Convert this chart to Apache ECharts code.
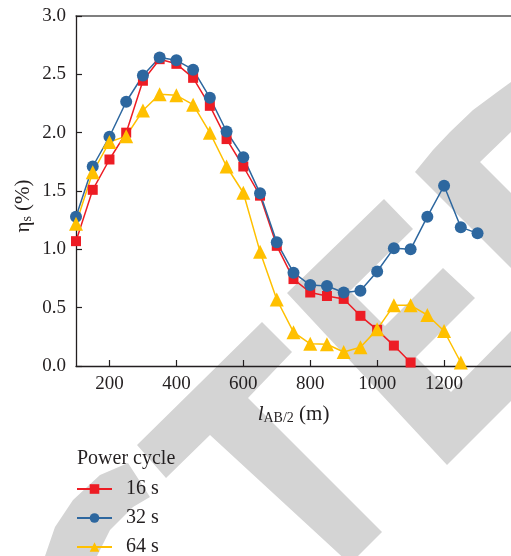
<!DOCTYPE html>
<html><head><meta charset="utf-8">
<script src="https://cdn.jsdelivr.net/npm/echarts@6/dist/echarts.min.js"></script>
<style>html,body{margin:0;padding:0;background:#fff}#c{width:511px;height:556px}</style>
</head><body><div id="c"></div>
<script>
const xs = [100,150,200,250,300,350,400,450,500,550,600,650,700,750,800,850,900,950,1000,1050,1100,1150,1200,1250,1300];
const s16 = [1.07,1.51,1.77,2.00,2.445,2.63,2.59,2.47,2.23,1.945,1.71,1.46,1.03,0.745,0.63,0.60,0.575,0.43,0.31,0.175,0.03];
const s32 = [1.28,1.71,1.965,2.265,2.49,2.645,2.62,2.54,2.30,2.01,1.79,1.48,1.06,0.80,0.694,0.686,0.63,0.645,0.81,1.01,1.0,1.28,1.545,1.19,1.137];
const s64 = [1.22,1.66,1.92,1.97,2.19,2.33,2.32,2.24,2.0,1.71,1.485,0.98,0.57,0.29,0.19,0.186,0.12,0.16,0.314,0.52,0.52,0.437,0.30,0.03];
const seriesNames = ['16 s','32 s','64 s'];
const xTicks = [200,400,600,800,1000,1200];

const FONT = 'Liberation Serif';
const TXT = '#231f20';
const GRAY = '#d4d4d4';
const pairs = arr => arr.map((v,i)=>[xs[i], v]);

const wm = [
  [[137,445],[262,322],[292,352],[248,398],[382,532],[350,564],[210,435],[166,478]],
  [[287,293],[384,199],[413,229],[350,291],[385,326],[443,268],[475,298],[416,357],[451,392],[511,331],[511,401],[447,465]],
  [[415,172],[433,150],[450,132],[473,110],[500,90],[511,82],[511,132],[480,162],[511,193],[511,268]],
  [[128,463],[100,475],[73,500],[55,527],[45,556],[97,556],[110,530],[133,507],[150,497]]
];

const chart = echarts.init(document.getElementById('c'), null, {renderer:'canvas'});
const rich = {
  a:{fontFamily:FONT,fontSize:21,color:TXT},
  i:{fontFamily:FONT,fontSize:21,color:TXT,fontStyle:'italic'},
  s:{fontFamily:FONT,fontSize:14,color:TXT,verticalAlign:'bottom'}
};
chart.setOption({
  animation:false,
  textStyle:{fontFamily:FONT},
  grid:{left:76, top:16, bottom:190, right:-20, containLabel:false},
  graphic:{elements: wm.map(p=>({type:'polygon', z:-10, silent:true, shape:{points:p}, style:{fill:GRAY}})).concat([
    {type:'text', left:77, top:449, z:10, style:{text:'Power cycle', font:'20px "Liberation Serif"', fill:TXT}}
  ])},
  legend:{
    orient:'vertical', left:76, top:479, height:200, padding:0, itemWidth:35, itemHeight:12, itemGap:9,
    data:seriesNames,
    textStyle:{fontFamily:FONT, fontSize:20, color:TXT, padding:[0,0,0,9]}
  },
  xAxis:[{
    type:'value', min:100, max:1400,
    name:'{i|l}{s|AB/2}{a| (m)}', nameLocation:'middle', nameGap:38,
    nameTextStyle:{rich:rich, padding:[0,0,0,0]},
    axisLine:{show:true, onZero:false, lineStyle:{color:TXT, width:1.3}},
    axisTick:{show:true, inside:true, length:6, customValues:xTicks, lineStyle:{color:TXT, width:1.2}},
    axisLabel:{customValues:xTicks, fontFamily:FONT, fontSize:19, color:TXT, margin:9, formatter:v=>String(v)},
    splitLine:{show:false}
  },{
    type:'value', min:100, max:1400, position:'top',
    axisLine:{show:true, onZero:false, lineStyle:{color:'#555', width:1.5}},
    axisTick:{show:false}, axisLabel:{show:false}, splitLine:{show:false}
  }],
  yAxis:{
    type:'value', min:0, max:3, interval:0.5,
    name:'{a|η}{s|s}{a| (%)}', nameLocation:'middle', nameGap:42, nameRotate:90, nameMoveOverlap:false,
    nameTextStyle:{rich:rich, padding:[0,30,0,0]},
    axisLine:{show:true, onZero:false, lineStyle:{color:TXT, width:1.3}},
    axisTick:{show:true, inside:true, length:6, lineStyle:{color:TXT, width:1.2}},
    axisLabel:{fontFamily:FONT, fontSize:19, color:TXT, margin:10, formatter:v=>v.toFixed(1)},
    splitLine:{show:false}
  },
  series:[
    {name:seriesNames[0], type:'line', data:pairs(s16), symbol:'rect', symbolSize:10,
      itemStyle:{color:'#ed1c24'}, lineStyle:{color:'#ed1c24', width:1.5}},
    {name:seriesNames[1], type:'line', data:pairs(s32), symbol:'circle', symbolSize:12,
      itemStyle:{color:'#2d679f'}, lineStyle:{color:'#2d679f', width:1.5}},
    {name:seriesNames[2], type:'line', data:pairs(s64), symbol:'triangle', symbolSize:14,
      itemStyle:{color:'#ffc000'}, lineStyle:{color:'#ffc000', width:1.5}}
  ]
});
</script></body></html>
